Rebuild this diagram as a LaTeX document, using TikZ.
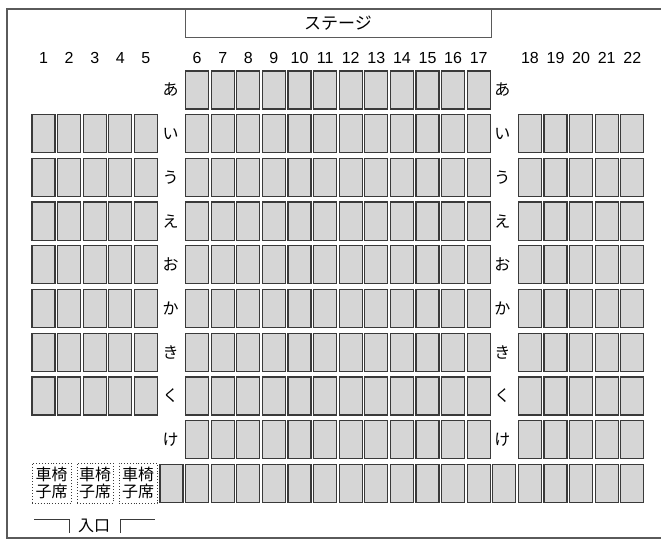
\documentclass[tikz,border=0pt]{standalone}
\usepackage{fontspec}
\setmainfont{Liberation Sans}
\newfontfamily\jp{Noto Sans CJK JP}
\definecolor{seatfill}{HTML}{D6D6D6}
\definecolor{seatline}{HTML}{3A3A3A}
\definecolor{frameline}{HTML}{5A5A5A}
\begin{document}
\begin{tikzpicture}[x=1pt,y=-1pt,
  seat/.style={draw=seatline,fill=seatfill,line width=1.2pt,minimum width=23pt,minimum height=38pt,inner sep=0pt,outer sep=0pt},
  wbox/.style={draw=seatline,dotted,line width=0.9pt,minimum width=37pt,minimum height=40pt,inner sep=0pt,align=center,font=\jp\fontsize{16}{17}\selectfont},
  colnum/.style={font=\fontsize{16}{18}\selectfont,inner sep=0pt,anchor=base},
  rowlab/.style={font=\jp\fontsize{16}{17}\selectfont,inner sep=0pt},
  stagebox/.style={draw=frameline,line width=1pt,minimum width=306pt,minimum height=29pt,inner sep=0pt,font=\jp\fontsize{17}{19}\selectfont},
  frame/.style={draw=frameline,line width=1.4pt},
  entry/.style={draw=seatline,line width=1pt}]
\useasboundingbox (0,0) rectangle (661,540);
% outer frame
\coordinate (fTR) at (661,9);
\coordinate (fTL) at (7,9);
\coordinate (fBL) at (7,538);
\coordinate (fBR) at (661,538);
\draw[frame] (fTR) -- (fTL) -- (fBL) -- (fBR);
% stage
\node[stagebox] (stage) at (338,23.5) {ステージ};
% column numbers
\foreach \i in {0,...,23}{
  \pgfmathtruncatemacro{\lab}{\i<5 ? \i+1 : (\i<18 ? \i : \i-1)}
  \ifnum\i=5\relax\else\ifnum\i=18\relax\else
    \node[colnum] (c\i) at ({43.5+25.6*\i},64) {\lab};
  \fi\fi
}
% row labels
\foreach \lab [count=\r from 0] in {あ,い,う,え,お,か,き,く,け}{
  \node[rowlab] (ll\r) at ({43.5+25.6*5-1},{90+43.7*\r}) {\lab};
  \node[rowlab] (rl\r) at ({43.5+25.6*18-2},{90+43.7*\r}) {\lab};
}
% row 0
\foreach \i in {6,...,17}{\node[seat] (s0-\i) at ({43.5+25.6*\i},90) {};}
% rows 1..7
\foreach \r in {1,...,7}{
  \foreach \i in {0,...,4,6,7,...,17,19,20,...,23}{
    \node[seat] (s\r-\i) at ({43.5+25.6*\i},{90+43.7*\r}) {};
  }
}
% row 8
\foreach \i in {6,...,17,19,20,...,23}{\node[seat] (s8-\i) at ({43.5+25.6*\i},{90+43.7*8}) {};}
% row 9
\foreach \i in {5,...,23}{\node[seat] (s9-\i) at ({43.5+25.6*\i},{90+43.7*9}) {};}
% wheelchair spaces
\node[wbox,minimum width=39pt] (w1) at (51.5,483) {車椅\\子席};
\node[wbox,minimum width=36pt] (w2) at (95,483) {車椅\\子席};
\node[wbox,minimum width=38pt] (w3) at (138,483) {車椅\\子席};
% entrance
\node[rowlab] (ent) at (94,526) {入口};
\coordinate (e1) at (34,519);
\coordinate (e2) at (69,519);
\coordinate (e3) at (69,533);
\coordinate (e4) at (120,533);
\coordinate (e5) at (120,519);
\coordinate (e6) at (155,519);
\draw[entry] (e1) -- (e2) -- (e3);
\draw[entry] (e4) -- (e5) -- (e6);
\end{tikzpicture}
\end{document}
